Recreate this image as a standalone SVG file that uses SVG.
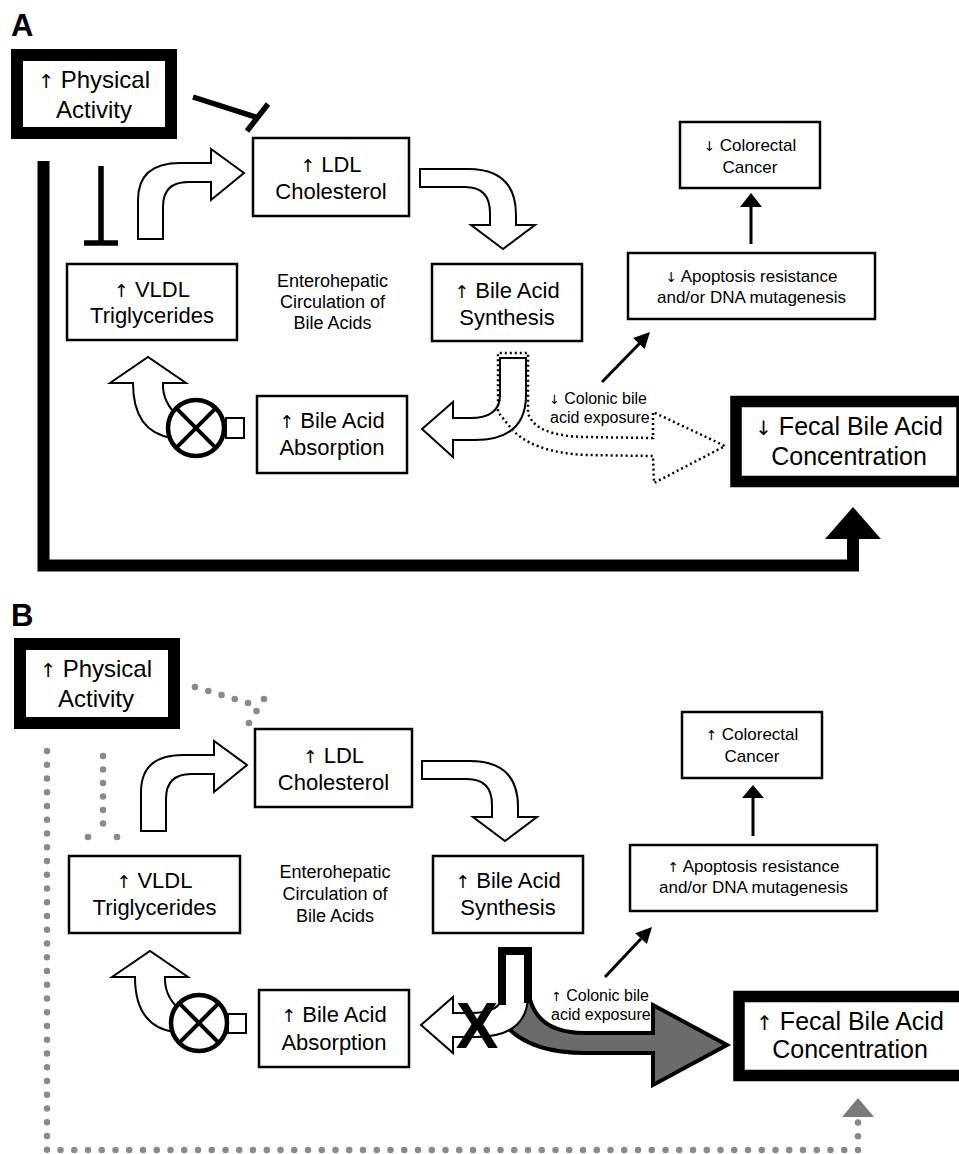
<svg xmlns="http://www.w3.org/2000/svg" width="959" height="1154" viewBox="0 0 959 1154">
<style>
text{font-family:"Liberation Sans",Arial,Helvetica,sans-serif;fill:#000}
.ar{font-family:"DejaVu Sans",sans-serif;font-size:0.8em}
.lab{font-size:31px;font-weight:bold}
.m{text-anchor:middle}
.f22{font-size:22px}
.f24{font-size:24px}
.f25{font-size:25px}
.f17{font-size:17px}
.f175{font-size:18px}
.f15{font-size:16px}
.box{fill:#fff;stroke:#000;stroke-width:2.5}
.thick{fill:#fff;stroke:#000;stroke-width:12}
.hollow{fill:#fff;stroke:#000;stroke-width:2;stroke-linejoin:miter}
.inh{stroke:#000;stroke-width:5.5;fill:none}
.ln{stroke:#000;stroke-width:3;fill:none}
.dotblk{fill:none;stroke:#000;stroke-width:2.5;stroke-dasharray:2 3}
.gdot{fill:#8a8a8a}
.gline{fill:none;stroke:#8a8a8a;stroke-width:6.5;stroke-linecap:round;stroke-dasharray:0 13.75}
.valve{fill:#fff;stroke:#000;stroke-width:4.5}
.vx{stroke:#000;stroke-width:4}
</style>
<rect width="959" height="1154" fill="#fff"/>

<!-- ================= PANEL A ================= -->
<text class="lab" x="11" y="36">A</text>

<g id="connectorsA">
  <line class="inh" x1="193" y1="97" x2="259" y2="118"/>
  <line class="inh" x1="247" y1="131" x2="268" y2="104"/>
  <line class="inh" x1="101" y1="166" x2="101" y2="243"/>
  <line class="inh" x1="84" y1="243" x2="118" y2="243"/>
  <path d="M43.5,161 V565.5 H853 V536" fill="none" stroke="#000" stroke-width="12" stroke-linejoin="miter"/>
  <polygon points="825,539 881,539 853,507" fill="#000"/>
  <path class="hollow" d="M138,239 L138,200 Q138,163 180,163 L211,163 L211,149 L244,173 L211,200 L211,182 L188,182 Q163,182 163,207 L163,239 Z"/>
  <path class="hollow" d="M420,169 L468,169 Q516,169 516,215 L516,225 L535,225 L503,249 L471,225 L490,225 L490,213 Q490,187 465,187 L420,187 Z"/>
  <path class="hollow" d="M500,358 L526,358 L526,395 Q526,440 475,440 L453,440 L453,457 L422,429 L453,402 L453,418 L470,418 Q500,418 500,395 Z"/>
  <path class="dotblk" d="M510,427 L498,412 L498,353 L528,353 L528,413 Q535,436 585,437 L653,438 L653,412 L725,446 L654,483 L653,456 L585,455 Q530,452 510,427 Z"/>
  <line class="ln" x1="751" y1="244" x2="751" y2="206"/>
  <polygon points="740,207 762,207 751,193" fill="#000"/>
  <line class="ln" x1="602" y1="382" x2="640" y2="343"/>
  <polygon points="650,332 644.7,349.1 633.1,338" fill="#000"/>
  <path class="hollow" d="M110,383 L148,357 L186,383 L163,383 Q162,403 180,418 L172,438 Q133,432 133,383 Z"/>
  <rect x="226" y="418" width="18" height="20" fill="#fff" stroke="#000" stroke-width="2"/>
  <circle class="valve" cx="196" cy="428" r="28"/>
  <line class="vx" x1="176.2" y1="408.2" x2="215.8" y2="447.8"/>
  <line class="vx" x1="215.8" y1="408.2" x2="176.2" y2="447.8"/>
</g>

<g id="A_physical">
  <rect class="thick" x="17" y="55" width="154" height="78"/>
  <text class="m f24" x="94" y="88"><tspan class="ar">↑</tspan> Physical</text>
  <text class="m f24" x="94" y="118">Activity</text>
</g>
<g id="A_ldl">
  <rect class="box" x="253" y="138" width="156" height="78"/>
  <text class="m f22" x="331" y="172"><tspan class="ar">↑</tspan> LDL</text>
  <text class="m f22" x="331" y="199">Cholesterol</text>
</g>
<g id="A_vldl">
  <rect class="box" x="67" y="264" width="170" height="76"/>
  <text class="m f22" x="152" y="297"><tspan class="ar">↑</tspan> VLDL</text>
  <text class="m f22" x="152" y="323">Triglycerides</text>
</g>
<g id="A_enterohepatic">
  <text class="m f175" x="332.5" y="287">Enterohepatic</text>
  <text class="m f175" x="332.5" y="308">Circulation of</text>
  <text class="m f175" x="332.5" y="329">Bile Acids</text>
</g>
<g id="A_synthesis">
  <rect class="box" x="432" y="264" width="150" height="77"/>
  <text class="m f22" x="507" y="298"><tspan class="ar">↑</tspan> Bile Acid</text>
  <text class="m f22" x="507" y="325">Synthesis</text>
</g>
<g id="A_absorption">
  <rect class="box" x="257" y="396" width="150" height="77"/>
  <text class="m f22" x="332" y="428"><tspan class="ar">↑</tspan> Bile Acid</text>
  <text class="m f22" x="332" y="455">Absorption</text>
</g>
<g id="A_colorectal">
  <rect class="box" x="680" y="122" width="140" height="66"/>
  <text class="m f17" x="750" y="151"><tspan class="ar">↓</tspan> Colorectal</text>
  <text class="m f17" x="750" y="173">Cancer</text>
</g>
<g id="A_apoptosis">
  <rect class="box" x="628" y="253" width="247" height="66"/>
  <text class="m f17" x="751.5" y="282"><tspan class="ar">↓</tspan> Apoptosis resistance</text>
  <text class="m f17" x="751.5" y="303">and/or DNA mutagenesis</text>
</g>
<g id="A_colonic">
  <text class="f15" x="549" y="404"><tspan class="ar">↓</tspan> Colonic bile</text>
  <text class="f15" x="550" y="423">acid exposure</text>
</g>
<g id="A_fecal">
  <rect x="736" y="401.5" width="226" height="80" fill="#fff" stroke="#000" stroke-width="11.5"/>
  <text class="m f25" x="849" y="435"><tspan class="ar">↓</tspan> Fecal Bile Acid</text>
  <text class="m f25" x="849" y="465">Concentration</text>
</g>

<!-- ================= PANEL B ================= -->
<text class="lab" x="11" y="626">B</text>

<g id="connectorsB">
  <circle class="gdot" cx="195" cy="687" r="3.3"/>
  <circle class="gdot" cx="208.3" cy="691" r="3.3"/>
  <circle class="gdot" cx="221.5" cy="695" r="3.3"/>
  <circle class="gdot" cx="234.8" cy="699" r="3.3"/>
  <circle class="gdot" cx="248" cy="703" r="3.3"/>
  <circle class="gdot" cx="264" cy="699" r="3.3"/>
  <circle class="gdot" cx="256.5" cy="711" r="3.3"/>
  <circle class="gdot" cx="249" cy="723" r="3.3"/>
  <path class="gline" d="M103,756 V837" style="stroke-dasharray:0 13.5"/>
  <circle class="gdot" cx="88" cy="837" r="3.3"/>
  <circle class="gdot" cx="117" cy="837" r="3.3"/>
  <path class="gline" d="M47,751 V1150 H858 V1122"/>
  <polygon points="858,1098 842,1117 874,1117" fill="#7a7a7a"/>
  <path class="hollow" d="M141,831 L141,792 Q141,755 183,755 L214,755 L214,741 L247,765 L214,792 L214,774 L191,774 Q166,774 166,799 L166,831 Z"/>
  <path class="hollow" d="M422,761 L470,761 Q518,761 518,807 L518,817 L537,817 L505,841 L473,817 L492,817 L492,805 Q492,779 467,779 L422,779 Z"/>
  <path d="M528,985 Q530,1033 585,1033 L653,1033 L653,1005 L727,1045 L653,1085 L653,1053 L585,1053 Q530,1053 505,1025 Z" fill="#6b6b6b" stroke="#000" stroke-width="4" stroke-linejoin="miter"/>
  <path class="hollow" d="M502,951 L528,951 L528,995 Q528,1037 475,1037 L453,1037 L453,1053 L421,1025 L453,997 L453,1013 L470,1013 Q502,1013 502,995 Z"/>
  <path d="M502,1005 V951 H528 V1003" fill="none" stroke="#000" stroke-width="8" stroke-linejoin="miter"/>
  <text x="477" y="1048" font-size="64" font-weight="bold" text-anchor="middle">X</text>
  <line class="ln" x1="753" y1="836" x2="753" y2="797"/>
  <polygon points="742,798 764,798 753,785" fill="#000"/>
  <line class="ln" x1="605" y1="977" x2="641" y2="938.7"/>
  <polygon points="652,927 646.9,944.1 635.2,933.2" fill="#000"/>
  <path class="hollow" d="M112,977 L150,951 L188,977 L165,977 Q164,997 182,1012 L174,1032 Q135,1026 135,977 Z"/>
  <rect x="228" y="1014" width="18" height="19" fill="#fff" stroke="#000" stroke-width="2"/>
  <circle class="valve" cx="199" cy="1023" r="28"/>
  <line class="vx" x1="179.2" y1="1003.2" x2="218.8" y2="1042.8"/>
  <line class="vx" x1="218.8" y1="1003.2" x2="179.2" y2="1042.8"/>
</g>

<g id="B_physical">
  <rect class="thick" x="20" y="644" width="154" height="79"/>
  <text class="m f24" x="96" y="677"><tspan class="ar">↑</tspan> Physical</text>
  <text class="m f24" x="96" y="707">Activity</text>
</g>
<g id="B_ldl">
  <rect class="box" x="255" y="729" width="157" height="78"/>
  <text class="m f22" x="333.5" y="763"><tspan class="ar">↑</tspan> LDL</text>
  <text class="m f22" x="333.5" y="790">Cholesterol</text>
</g>
<g id="B_vldl">
  <rect class="box" x="69" y="856" width="171" height="77"/>
  <text class="m f22" x="154.5" y="888"><tspan class="ar">↑</tspan> VLDL</text>
  <text class="m f22" x="154.5" y="915">Triglycerides</text>
</g>
<g id="B_enterohepatic">
  <text class="m f175" x="335" y="878">Enterohepatic</text>
  <text class="m f175" x="335" y="900">Circulation of</text>
  <text class="m f175" x="335" y="922">Bile Acids</text>
</g>
<g id="B_synthesis">
  <rect class="box" x="433" y="856" width="150" height="77"/>
  <text class="m f22" x="508" y="888"><tspan class="ar">↑</tspan> Bile Acid</text>
  <text class="m f22" x="508" y="915">Synthesis</text>
</g>
<g id="B_absorption">
  <rect class="box" x="259" y="990" width="150" height="77"/>
  <text class="m f22" x="334" y="1022"><tspan class="ar">↑</tspan> Bile Acid</text>
  <text class="m f22" x="334" y="1050">Absorption</text>
</g>
<g id="B_colorectal">
  <rect class="box" x="682" y="712" width="140" height="66"/>
  <text class="m f17" x="752" y="740"><tspan class="ar">↑</tspan> Colorectal</text>
  <text class="m f17" x="752" y="762">Cancer</text>
</g>
<g id="B_apoptosis">
  <rect class="box" x="630" y="845" width="247" height="66"/>
  <text class="m f17" x="753.5" y="872"><tspan class="ar">↑</tspan> Apoptosis resistance</text>
  <text class="m f17" x="753.5" y="893">and/or DNA mutagenesis</text>
</g>
<g id="B_colonic">
  <text class="f15" x="551" y="1001"><tspan class="ar">↑</tspan> Colonic bile</text>
  <text class="f15" x="551" y="1020">acid exposure</text>
</g>
<g id="B_fecal">
  <rect x="739" y="996.5" width="226" height="79" fill="#fff" stroke="#000" stroke-width="11.5"/>
  <text class="m f25" x="850" y="1030"><tspan class="ar">↑</tspan> Fecal Bile Acid</text>
  <text class="m f25" x="850" y="1058">Concentration</text>
</g>
</svg>
